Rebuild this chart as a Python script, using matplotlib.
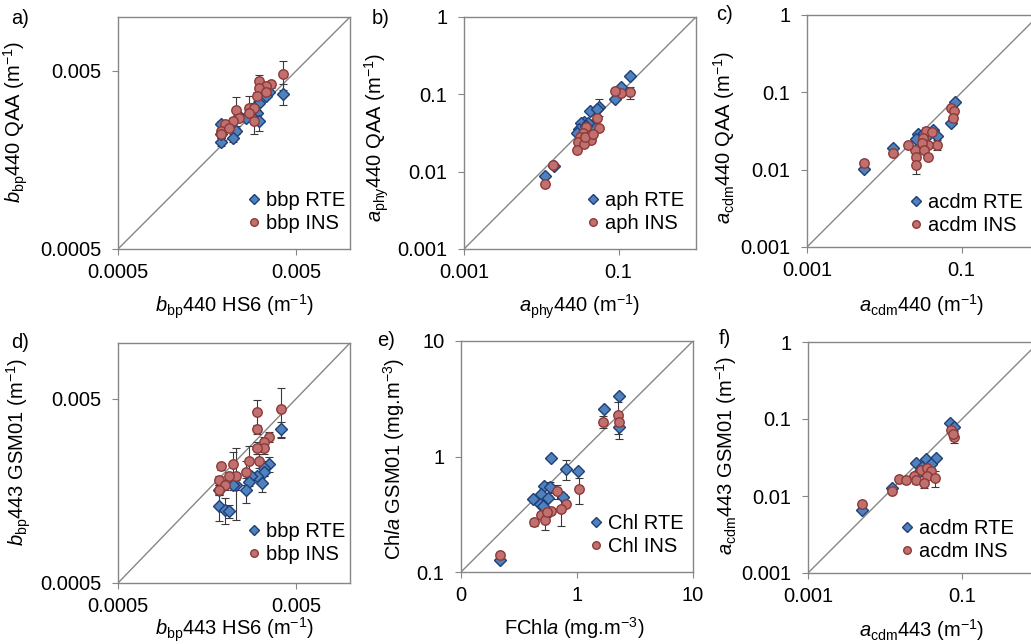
"""Six log-log validation scatter panels (RTE vs INS retrievals)."""

import matplotlib

matplotlib.use("Agg")
import matplotlib.pyplot as plt
from matplotlib.ticker import FixedLocator, FixedFormatter, NullLocator

FS = 14.5
plt.rcParams["font.family"] = ["Liberation Sans", "DejaVu Sans"]
plt.rcParams["mathtext.fontset"] = "custom"
plt.rcParams["mathtext.rm"] = "Liberation Sans"
plt.rcParams["mathtext.it"] = "Liberation Sans:italic"
plt.rcParams["font.size"] = FS

# ---- data ----
# a) bbp440 QAA vs HS6
a_rte_x = [0.0042, 0.0035, 0.0034, 0.0031, 0.0030, 0.0028, 0.0031, 0.0024, 0.0023, 0.0022, 0.0019, 0.0019, 0.0019, 0.0026, 0.0029]
a_rte_y = [0.0037, 0.0038, 0.0036, 0.0033, 0.0029, 0.0028, 0.0026, 0.0028, 0.0023, 0.0021, 0.0020, 0.0025, 0.0022, 0.0027, 0.0031]
a_rte_err = [0.0005, 0.0001, 0.0001, 0.0001, 0.0001, 0.0002, 0.0003, 0.0001, 0.0001, 0.0001, 0.0001, 0.0001, 0.0001, 0.0001, 0.0001]
a_ins_x = [0.0042, 0.0031, 0.0036, 0.0034, 0.0031, 0.0034, 0.0030, 0.0023, 0.0027, 0.0029, 0.0027, 0.0024, 0.0029, 0.0022, 0.0020, 0.0019, 0.0019, 0.0021]
a_ins_y = [0.0048, 0.0044, 0.0042, 0.0041, 0.0040, 0.0038, 0.0036, 0.0030, 0.0031, 0.0031, 0.0029, 0.0027, 0.0026, 0.0026, 0.0025, 0.0023, 0.0022, 0.0024]
a_ins_err = [0.0009, 0.0003, 0.0002, 0.0001, 0.0001, 0.0001, 0.0002, 0.00055, 0.0005, 0.0002, 0.0001, 0.0001, 0.0004, 0.0001, 0.0001, 0.0001, 0.0001, 0.0001]

# b) aphy440 QAA vs measured
b_rte_x = [0.139, 0.106, 0.091, 0.056, 0.043, 0.052, 0.036, 0.033, 0.045, 0.031, 0.029, 0.0146, 0.0111, 0.040, 0.038]
b_rte_y = [0.175, 0.126, 0.087, 0.069, 0.061, 0.064, 0.044, 0.042, 0.040, 0.036, 0.032, 0.0119, 0.0088, 0.043, 0.039]
b_rte_err = [0.005, 0.004, 0.003, 0.017, 0.002, 0.002, 0.001, 0.001, 0.001, 0.001, 0.001, 0.0003, 0.0002, 0.001, 0.001]
b_ins_x = [0.139, 0.106, 0.091, 0.052, 0.056, 0.038, 0.035, 0.042, 0.044, 0.032, 0.030, 0.036, 0.029, 0.0142, 0.0112, 0.037, 0.046]
b_ins_y = [0.106, 0.105, 0.112, 0.050, 0.037, 0.038, 0.032, 0.030, 0.026, 0.028, 0.024, 0.023, 0.019, 0.0122, 0.0069, 0.028, 0.031]
b_ins_err = [0.020, 0.005, 0.004, 0.004, 0.001, 0.001, 0.001, 0.001, 0.001, 0.001, 0.001, 0.001, 0.001, 0.0003, 0.0002, 0.001, 0.001]

# c) acdm440 QAA vs measured
c_rte_x = [0.081, 0.073, 0.042, 0.027, 0.048, 0.037, 0.0131, 0.0054, 0.026, 0.033]
c_rte_y = [0.074, 0.040, 0.033, 0.029, 0.027, 0.028, 0.019, 0.0101, 0.025, 0.030]
c_rte_err = [0.002, 0.002, 0.001, 0.001, 0.001, 0.001, 0.0005, 0.0003, 0.001, 0.001]
c_ins_x = [0.072, 0.080, 0.077, 0.035, 0.041, 0.032, 0.048, 0.037, 0.031, 0.025, 0.033, 0.020, 0.026, 0.037, 0.0131, 0.0055, 0.026]
c_ins_y = [0.062, 0.058, 0.046, 0.032, 0.031, 0.026, 0.021, 0.021, 0.022, 0.018, 0.018, 0.021, 0.0145, 0.0147, 0.0166, 0.0121, 0.0115]
c_ins_err = [0.003, 0.003, 0.004, 0.004, 0.001, 0.001, 0.003, 0.001, 0.001, 0.001, 0.001, 0.001, 0.001, 0.001, 0.0005, 0.0003, 0.0027]

# d) bbp443 GSM01 vs HS6
d_rte_x = [0.0041, 0.0035, 0.0033, 0.0033, 0.0030, 0.0032, 0.0028, 0.0027, 0.0026, 0.0023, 0.0022, 0.00185, 0.00185, 0.0020, 0.0021]
d_rte_y = [0.0034, 0.0022, 0.0021, 0.0020, 0.0019, 0.00175, 0.0019, 0.00177, 0.0016, 0.0017, 0.0017, 0.0016, 0.0013, 0.00124, 0.00123]
d_rte_err = [0.00035, 0.0002, 0.0002, 0.0001, 0.0001, 0.0002, 0.0001, 0.0001, 0.00025, 0.0001, 0.0001, 0.0001, 0.00022, 0.0002, 0.0001]
d_ins_x = [0.0041, 0.0030, 0.0030, 0.0035, 0.0033, 0.0033, 0.0030, 0.0031, 0.0027, 0.0022, 0.0019, 0.0026, 0.0023, 0.0021, 0.00185, 0.0020, 0.00185]
d_ins_y = [0.0044, 0.0042, 0.0034, 0.0031, 0.0029, 0.0027, 0.0027, 0.0023, 0.0023, 0.0022, 0.00215, 0.0020, 0.0019, 0.0019, 0.0018, 0.0017, 0.0016]
d_ins_err = [0.0013, 0.0007, 0.0002, 0.0002, 0.0002, 0.0002, 0.0002, 0.0002, 0.00048, 0.00037, 0.0001, 0.0003, 0.0008, 0.0001, 0.0001, 0.0001, 0.0001]

# e) Chla GSM01 vs FChla
e_rte_x = [2.30, 1.70, 2.30, 0.60, 0.80, 1.02, 0.52, 0.59, 0.49, 0.42, 0.56, 0.75, 0.48, 0.51, 0.215]
e_rte_y = [3.33, 2.56, 1.81, 0.98, 0.78, 0.75, 0.55, 0.54, 0.47, 0.43, 0.44, 0.45, 0.39, 0.37, 0.128]
e_rte_err = [0.10, 0.10, 0.40, 0.02, 0.15, 0.03, 0.02, 0.06, 0.02, 0.02, 0.02, 0.02, 0.02, 0.02, 0.005]
e_ins_x = [2.27, 1.68, 2.30, 1.04, 0.675, 0.80, 0.73, 0.60, 0.49, 0.53, 0.43, 0.55, 0.215]
e_ins_y = [2.28, 2.00, 1.97, 0.52, 0.50, 0.39, 0.35, 0.34, 0.31, 0.28, 0.27, 0.33, 0.141]
e_ins_err = [0.70, 0.25, 0.10, 0.13, 0.07, 0.02, 0.10, 0.02, 0.02, 0.05, 0.02, 0.03, 0.005]

# f) acdm443 GSM01 vs measured
f_rte_x = [0.0705, 0.0795, 0.046, 0.034, 0.040, 0.025, 0.025, 0.0123, 0.0050, 0.030]
f_rte_y = [0.090, 0.079, 0.031, 0.030, 0.026, 0.027, 0.019, 0.0127, 0.0066, 0.024]
f_rte_err = [0.003, 0.003, 0.001, 0.001, 0.001, 0.001, 0.001, 0.0005, 0.0003, 0.001]
f_ins_x = [0.072, 0.078, 0.077, 0.029, 0.035, 0.040, 0.0235, 0.035, 0.045, 0.015, 0.025, 0.019, 0.0325, 0.0125, 0.0050]
f_ins_y = [0.073, 0.059, 0.064, 0.022, 0.023, 0.021, 0.018, 0.018, 0.017, 0.0166, 0.0163, 0.0159, 0.0147, 0.0115, 0.0079]
f_ins_err = [0.003, 0.010, 0.003, 0.001, 0.001, 0.001, 0.001, 0.001, 0.004, 0.001, 0.002, 0.001, 0.002, 0.0005, 0.0003]

BBP_TICKS = [0.0005, 0.005]
BBP_LABELS = ["0.0005", "0.005"]
A_TICKS = [0.001, 0.01, 0.1, 1]
A_LABELS = ["0.001", "0.01", "0.1", "1"]
A_XTICKS = [0.001, 0.1]
A_XLABELS = ["0.001", "0.1"]
CHL_TICKS = [0.1, 1, 10]
CHL_XLABELS = ["0", "1", "10"]
CHL_YLABELS = ["0.1", "1", "10"]

GRID = "#868686"
BLUE = "#4F81BD"
BLUE_EDGE = "#1F3F78"
RED = "#C0706E"
RED_EDGE = "#8C3A38"
W, H = 1031, 644

panels = [
    dict(tag="a)", box=(118, 17, 232, 232), lim=(0.0005, 0.01),
         xt=(BBP_TICKS, BBP_LABELS), yt=(BBP_TICKS, BBP_LABELS),
         xlabel=r"$\mathit{b}_{\mathrm{bp}}$440 HS6 (m$^{\mathrm{-1}}$)",
         ylabel=r"$\mathit{b}_{\mathrm{bp}}$440 QAA (m$^{\mathrm{-1}}$)",
         names=("bbp RTE", "bbp INS"),
         rte=(a_rte_x, a_rte_y, a_rte_err), ins=(a_ins_x, a_ins_y, a_ins_err),
         ylc=(-0.38, 0.547), xlc=(0.5, -0.19), leg=(0.98, 0.07), tagpos=(11, 18)),
    dict(tag="b)", box=(464, 17, 232, 232), lim=(0.001, 1),
         xt=(A_XTICKS, A_XLABELS), yt=(A_TICKS, A_LABELS),
         xlabel=r"$\mathit{a}_{\mathrm{phy}}$440 (m$^{\mathrm{-1}}$)",
         ylabel=r"$\mathit{a}_{\mathrm{phy}}$440 QAA (m$^{\mathrm{-1}}$)",
         names=("aph RTE", "aph INS"),
         rte=(b_rte_x, b_rte_y, b_rte_err), ins=(b_ins_x, b_ins_y, b_ins_err),
         ylc=(-0.315, 0.48), xlc=(0.5, -0.19), leg=(0.95, 0.07), tagpos=(372, 18)),
    dict(tag="c)", box=(807, 15, 232, 232), lim=(0.001, 1),
         xt=(A_XTICKS, A_XLABELS), yt=(A_TICKS, A_LABELS),
         xlabel=r"$\mathit{a}_{\mathrm{cdm}}$440 (m$^{\mathrm{-1}}$)",
         ylabel=r"$\mathit{a}_{\mathrm{cdm}}$440 QAA (m$^{\mathrm{-1}}$)",
         names=("acdm RTE", "acdm INS"),
         rte=(c_rte_x, c_rte_y, c_rte_err), ins=(c_ins_x, c_ins_y, c_ins_err),
         ylc=(-0.30, 0.474), xlc=(0.495, -0.195), leg=(0.93, 0.05), tagpos=(716, 14)),
    dict(tag="d)", box=(118, 343, 232, 240), lim=(0.0005, 0.01),
         xt=(BBP_TICKS, BBP_LABELS), yt=(BBP_TICKS, BBP_LABELS),
         xlabel=r"$\mathit{b}_{\mathrm{bp}}$443 HS6 (m$^{\mathrm{-1}}$)",
         ylabel=r"$\mathit{b}_{\mathrm{bp}}$443 GSM01 (m$^{\mathrm{-1}}$)",
         names=("bbp RTE", "bbp INS"),
         rte=(d_rte_x, d_rte_y, d_rte_err), ins=(d_ins_x, d_ins_y, d_ins_err),
         ylc=(-0.365, 0.546), xlc=(0.5, -0.135), leg=(0.98, 0.08), tagpos=(11, 343)),
    dict(tag="e)", box=(461, 341, 232, 231), lim=(0.1, 10),
         xt=(CHL_TICKS, CHL_XLABELS), yt=(CHL_TICKS, CHL_YLABELS),
         xlabel=r"FChl$\mathit{a}$ (mg.m$^{\mathrm{-3}}$)",
         ylabel=r"Ch$\mathit{la}$ GSM01 (mg.m$^{\mathrm{-3}}$)",
         names=("Chl RTE", "Chl INS"),
         rte=(e_rte_x, e_rte_y, e_rte_err), ins=(e_ins_x, e_ins_y, e_ins_err),
         ylc=(-0.233, 0.49), xlc=(0.49, -0.185), leg=(0.96, 0.07), tagpos=(377, 340)),
    dict(tag="f)", box=(808, 342, 231, 231), lim=(0.001, 1),
         xt=(A_XTICKS, A_XLABELS), yt=(A_TICKS, A_LABELS),
         xlabel=r"$\mathit{a}_{\mathrm{cdm}}$443 (m$^{\mathrm{-1}}$)",
         ylabel=r"$\mathit{a}_{\mathrm{cdm}}$443 GSM01 (m$^{\mathrm{-1}}$)",
         names=("acdm RTE", "acdm INS"),
         rte=(f_rte_x, f_rte_y, f_rte_err), ins=(f_ins_x, f_ins_y, f_ins_err),
         ylc=(-0.30, 0.51), xlc=(0.49, -0.19), leg=(0.89, 0.05), tagpos=(719, 338)),
]

fig = plt.figure(figsize=(W / 100, H / 100), dpi=100)

for p in panels:
    left, top, w, h = p["box"]
    ax = fig.add_axes([left / W, 1 - (top + h) / H, w / W, h / H])
    ax.set_xscale("log")
    ax.set_yscale("log")
    lo, hi = p["lim"]
    ax.set_xlim(lo, hi)
    ax.set_ylim(lo, hi)
    ax.plot([lo, hi], [lo, hi], color=GRID, lw=1, zorder=1)

    for (x, y, err), marker, ms, fc, ec, name in [
        (p["rte"], "D", 5.8, BLUE, BLUE_EDGE, p["names"][0]),
        (p["ins"], "o", 6.8, RED, RED_EDGE, p["names"][1]),
    ]:
        ax.errorbar(x, y, yerr=err, fmt="none", ecolor="#3a3a3a", elinewidth=0.8,
                    capsize=3, capthick=0.8, zorder=2)
        ax.plot(x, y, ls="none", marker=marker, ms=ms, mfc=fc, mec=ec, mew=1.0,
                label=name, zorder=3)

    ax.xaxis.set_major_locator(FixedLocator(p["xt"][0]))
    ax.xaxis.set_major_formatter(FixedFormatter(p["xt"][1]))
    ax.yaxis.set_major_locator(FixedLocator(p["yt"][0]))
    ax.yaxis.set_major_formatter(FixedFormatter(p["yt"][1]))
    ax.xaxis.set_minor_locator(NullLocator())
    ax.yaxis.set_minor_locator(NullLocator())
    ax.tick_params(direction="out", length=4, width=0.8, color=GRID, labelsize=FS)
    ax.tick_params(axis="x", pad=6)
    ax.tick_params(axis="y", pad=8)
    for s in ax.spines.values():
        s.set_color(GRID)
        s.set_linewidth(1)

    ax.set_xlabel(p["xlabel"], fontsize=FS)
    ax.set_ylabel(p["ylabel"], fontsize=FS)
    ax.xaxis.set_label_coords(*p["xlc"])
    ax.yaxis.set_label_coords(*p["ylc"])

    ax.legend(loc="lower right", bbox_to_anchor=p["leg"], frameon=False,
              handlelength=0.6, handletextpad=0.3, labelspacing=0.2,
              borderaxespad=0, borderpad=0, fontsize=FS, markerscale=0.8)

    fig.text(p["tagpos"][0] / W, 1 - p["tagpos"][1] / H, p["tag"],
             ha="left", va="center", fontsize=FS)

fig.savefig("out.png", dpi=100)
